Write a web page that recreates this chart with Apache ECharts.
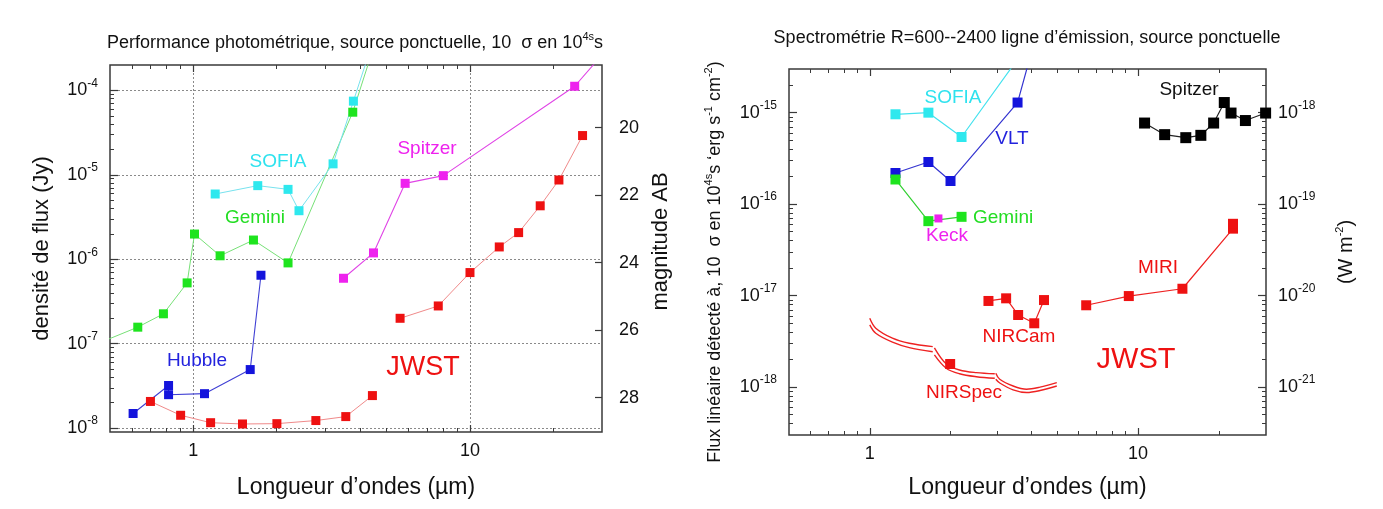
<!DOCTYPE html>
<html><head><meta charset="utf-8">
<script src="https://cdn.jsdelivr.net/npm/echarts@6/dist/echarts.min.js"></script>
<style>html,body{margin:0;padding:0;background:#fff}#c{width:1383px;height:509px}</style>
</head><body><div id="c"></div>
<script>
// ================= DATA =================
// Left panel: photometric performance, flux density (Jy) vs wavelength (µm)
const photGeminiWave = [0.45, 0.63, 0.78, 0.95, 1.01, 1.25, 1.65, 2.2, 3.77, 4.8];
const photGeminiFlux = [1.0e-7, 1.57e-7, 2.26e-7, 5.25e-7, 1.99e-6, 1.10e-6, 1.69e-6, 9.06e-7, 5.52e-5, 6.5e-4];
const photSofiaWave = [1.20, 1.71, 2.20, 2.41, 3.20, 3.79, 4.8];
const photSofiaFlux = [5.93e-6, 7.45e-6, 6.73e-6, 3.76e-6, 1.35e-5, 7.46e-5, 8.0e-4];
const photHubbleWave = [0.606, 0.814, 0.814, 1.098, 1.606, 1.756];
const photHubbleFlux = [1.49e-8, 3.2e-8, 2.49e-8, 2.56e-8, 4.94e-8, 6.47e-7];
const photSpitzerWave = [3.49, 4.48, 5.83, 8.01, 23.9, 35];
const photSpitzerFlux = [5.96e-7, 1.19e-6, 7.93e-6, 9.78e-6, 1.12e-4, 4.7e-4];
const photJwstNirWave = [0.70, 0.90, 1.155, 1.506, 2.005, 2.773, 3.557, 4.44];
const photJwstNirFlux = [2.07e-8, 1.42e-8, 1.16e-8, 1.12e-8, 1.13e-8, 1.23e-8, 1.37e-8, 2.43e-8];
const photJwstMiriWave = [5.59, 7.68, 10.0, 12.76, 14.99, 17.94, 20.96, 25.52];
const photJwstMiriFlux = [2.0e-7, 2.8e-7, 6.96e-7, 1.40e-6, 2.07e-6, 4.30e-6, 8.69e-6, 2.92e-5];

// Right panel: line spectroscopy, line flux (erg s-1 cm-2) vs wavelength (µm)
const specSofiaWave = [1.247, 1.654, 2.199, 4.0];
const specSofiaFlux = [9.6e-16, 1.0e-15, 5.42e-16, 6.2e-15];
const specVltWave = [1.247, 1.654, 2.0, 3.556, 4.0];
const specVltFlux = [2.19e-16, 2.89e-16, 1.79e-16, 1.29e-15, 4.5e-15];
const specGeminiWave = [1.247, 1.654, 2.199];
const specGeminiFlux = [1.86e-16, 6.52e-17, 7.27e-17];
const specKeckWave = [1.803];
const specKeckFlux = [6.98e-17];
const specNircamWave = [2.77, 3.224, 3.574, 4.104, 4.463];
const specNircamFlux = [8.75e-18, 9.35e-18, 6.15e-18, 4.99e-18, 8.95e-18];
const specMiriWave = [6.41, 9.24, 14.64, 22.6, 22.6];
const specMiriFlux = [7.85e-18, 9.9e-18, 1.19e-17, 5.4e-17, 6.1e-17];
const specSpitzerWave = [10.58, 12.57, 15.07, 17.15, 19.14, 20.97, 22.22, 25.14, 29.9];
const specSpitzerFlux = [7.7e-16, 5.75e-16, 5.33e-16, 5.65e-16, 7.7e-16, 1.29e-15, 9.9e-16, 8.2e-16, 9.9e-16];
const nirspecMarkWave = [1.994];
const nirspecMarkFlux = [1.79e-18];
const nirspecBandWave = [
  [1.0, 1.053, 1.215, 1.404, 1.717],
  [1.742, 1.927, 2.161, 2.496, 2.924],
  [2.95, 3.052, 3.423, 3.843, 4.311, 4.98]
];
const nirspecUpperFlux = [
  [5.66e-18, 4.41e-18, 3.43e-18, 3.02e-18, 2.77e-18],
  [2.69e-18, 1.80e-18, 1.54e-18, 1.44e-18, 1.40e-18],
  [1.42e-18, 1.22e-18, 1.03e-18, 9.5e-19, 1.0e-18, 1.12e-18]
];
const nirspecLowerFlux = [
  [4.79e-18, 3.88e-18, 3.10e-18, 2.70e-18, 2.44e-18],
  [2.25e-18, 1.61e-18, 1.40e-18, 1.30e-18, 1.25e-18],
  [1.22e-18, 1.11e-18, 9.35e-19, 8.74e-19, 9.18e-19, 1.03e-18]
];

// Axis ranges and tick labels
const waveMin = 0.5, waveMax = 30;
const waveMajor = [1, 10];
const photFluxMin = 9e-9, photFluxMax = 2e-4;
const photFluxMajor = [1e-8, 1e-7, 1e-6, 1e-5, 1e-4];
const magTicks = [20, 22, 24, 26, 28];
const specFluxMin = 3e-19, specFluxMax = 3e-15;
const specFluxMajor = [1e-18, 1e-17, 1e-16, 1e-15];
const wm2Major = [1e-21, 1e-20, 1e-19, 1e-18];

// ================= HELPERS =================
const FONT = '"Liberation Sans", Arial, Helvetica, sans-serif';
const TXT = '#111';
const FRAME = '#3a3a3a';
function minorLog(lo, hi) {
  const out = [];
  for (let e = Math.floor(Math.log10(lo)) - 1; e <= Math.ceil(Math.log10(hi)); e++) {
    for (let k = 2; k <= 9; k++) {
      const v = k * Math.pow(10, e);
      if (v > lo * 1.0001 && v < hi * 0.9999) out.push(v);
    }
  }
  return out;
}
function pts(xs, ys) { return xs.map((x, i) => [x, ys[i]]); }
const supRich = {
  b: { fontSize: 18, lineHeight: 26, fontFamily: FONT, color: TXT },
  s: { fontSize: 12, lineHeight: 14, verticalAlign: 'top', fontFamily: FONT, color: TXT }
};
function expLabel(v) {
  const e = Math.round(Math.log10(v));
  return '{b|10}{s|' + e + '}';
}
const ABzero = 3631;
const magTop = -2.5 * Math.log10(photFluxMax / ABzero);
const magBottom = -2.5 * Math.log10(photFluxMin / ABzero);

function xAxes(gridIndex) {
  const base = { gridIndex, type: 'log', logBase: 10, min: waveMin, max: waveMax, axisLine: { show: false } };
  const showGrid = gridIndex === 0;
  return [
    Object.assign({}, base, {
      position: 'bottom',
      axisTick: { show: true, inside: true, length: 7, customValues: waveMajor, lineStyle: { color: FRAME, width: 1.2 } },
      axisLabel: { show: true, customValues: waveMajor, formatter: v => String(Math.round(v)), fontSize: 18, fontFamily: FONT, color: TXT, margin: 10 },
      splitLine: { show: showGrid, lineStyle: { type: [2, 2], color: '#8a8a8a', width: 1 } },
      name: 'Longueur d’ondes (µm)', nameLocation: 'middle', nameGap: gridIndex === 0 ? 44 : 41,
      nameTextStyle: { fontSize: 23, fontFamily: FONT, color: TXT }
    }),
    Object.assign({}, base, {
      position: 'bottom',
      axisTick: { show: true, inside: true, length: 4, customValues: minorLog(waveMin, waveMax), lineStyle: { color: FRAME } },
      axisLabel: { show: false }, splitLine: { show: false }
    }),
    Object.assign({}, base, {
      position: 'top',
      axisTick: { show: true, inside: true, length: 7, customValues: waveMajor, lineStyle: { color: FRAME, width: 1.2 } },
      axisLabel: { show: false }, splitLine: { show: false }
    }),
    Object.assign({}, base, {
      position: 'top',
      axisTick: { show: true, inside: true, length: 4, customValues: minorLog(waveMin, waveMax), lineStyle: { color: FRAME } },
      axisLabel: { show: false }, splitLine: { show: false }
    })
  ];
}

function logY(gridIndex, position, min, max, major, withLabels, extra) {
  const base = { gridIndex, type: 'log', logBase: 10, min, max, position, axisLine: { show: false } };
  return [
    Object.assign({}, base, {
      axisTick: { show: true, inside: true, length: 8, customValues: major, lineStyle: { color: FRAME, width: 1.2 } },
      axisLabel: { show: withLabels, customValues: major, formatter: expLabel, rich: supRich, margin: 12 },
      splitLine: { show: gridIndex === 0 && position === 'left', lineStyle: { type: [2, 2], color: '#8a8a8a', width: 1 } }
    }, extra || {}),
    Object.assign({}, base, {
      axisTick: { show: true, inside: true, length: 4, customValues: minorLog(min, max), lineStyle: { color: FRAME } },
      axisLabel: { show: false }, splitLine: { show: false }
    })
  ];
}

const nameRich = {
  b: { fontSize: 18, lineHeight: 24, fontFamily: FONT, color: TXT },
  s: { fontSize: 11, lineHeight: 12, verticalAlign: 'top', fontFamily: FONT, color: TXT }
};

const xAxis = [].concat(xAxes(0), xAxes(1)); // 0-3 grid0, 4-7 grid1
const yAxis = [].concat(
  logY(0, 'left', photFluxMin, photFluxMax, photFluxMajor, true, {
    name: 'densité de flux (Jy)', nameLocation: 'middle', nameGap: 57, nameRotate: 90,
    nameTextStyle: { fontSize: 22, fontFamily: FONT, color: TXT }
  }), // 0,1
  [{
    gridIndex: 0, type: 'value', position: 'right', inverse: true, min: magTop, max: magBottom,
    axisLine: { show: false },
    axisTick: { show: true, inside: true, length: 7, customValues: magTicks, lineStyle: { color: FRAME, width: 1.2 } },
    axisLabel: { show: true, customValues: magTicks, fontSize: 18, fontFamily: FONT, color: TXT, margin: 17 },
    splitLine: { show: false },
    name: 'magnitude AB', nameLocation: 'middle', nameGap: 48, nameRotate: 90,
    nameTextStyle: { fontSize: 22, fontFamily: FONT, color: TXT, padding: [0, 0, 0, 14] }
  }], // 2
  logY(1, 'left', specFluxMin, specFluxMax, specFluxMajor, true, {
    name: '{b|Flux linéaire détecté à, 10  σ en 10}{s|4s}{b|s ‘erg s}{s|-1}{b| cm}{s|-2}{b|)}',
    nameLocation: 'middle', nameGap: 62, nameRotate: 90,
    nameTextStyle: { rich: nameRich, fontSize: 18, fontFamily: FONT, color: TXT, padding: [0, 20, 0, 0] }
  }), // 3,4
  logY(1, 'right', specFluxMin * 1e-3, specFluxMax * 1e-3, wm2Major, true, {
    name: '{b|(W m}{s|-2}{b|)}', nameLocation: 'middle', nameGap: 68, nameRotate: 90,
    nameTextStyle: { rich: { b: Object.assign({}, nameRich.b, { fontSize: 20 }), s: nameRich.s } }
  }) // 5,6
);

function markLine(name, xs, ys, xi, yi, color, lineColor, size, lw) {
  return {
    name, type: 'line', xAxisIndex: xi, yAxisIndex: yi, data: pts(xs, ys),
    symbol: 'rect', symbolSize: size, showSymbol: true, clip: true,
    itemStyle: { color: color }, lineStyle: { color: lineColor, width: lw },
    emphasis: { disabled: true }, animation: false, z: 3
  };
}
function curve(name, xs, ys) {
  return {
    name, type: 'line', xAxisIndex: 4, yAxisIndex: 3, data: pts(xs, ys),
    symbol: 'none', smooth: 0.35, clip: true,
    lineStyle: { color: '#ee2222', width: 1.4 }, emphasis: { disabled: true }, animation: false, z: 2
  };
}

const RED = '#ee1111';
const series = [
  markLine('Gemini', photGeminiWave, photGeminiFlux, 0, 0, '#1ee41e', '#77e077', 9, 1),
  markLine('SOFIA', photSofiaWave, photSofiaFlux, 0, 0, '#2ee8ee', '#77e2ee', 9, 1),
  markLine('Hubble', photHubbleWave, photHubbleFlux, 0, 0, '#1414dc', '#4040d4', 9, 1.1),
  markLine('Spitzer', photSpitzerWave, photSpitzerFlux, 0, 0, '#ee22ee', '#e044e6', 9, 1.1),
  markLine('JWST NIR', photJwstNirWave, photJwstNirFlux, 0, 0, RED, '#f08a8a', 9, 1),
  markLine('JWST MIRI', photJwstMiriWave, photJwstMiriFlux, 0, 0, RED, '#f08a8a', 9, 1),

  markLine('SOFIA spec', specSofiaWave, specSofiaFlux, 4, 3, '#2ee8ee', '#44e2ee', 10, 1.2),
  markLine('VLT', specVltWave, specVltFlux, 4, 3, '#1414dc', '#3434d0', 10, 1.2),
  markLine('Gemini spec', specGeminiWave, specGeminiFlux, 4, 3, '#1ee41e', '#33d033', 10, 1.2),
  markLine('Keck', specKeckWave, specKeckFlux, 4, 3, '#ee22ee', '#ee22ee', 8, 1.2),
  markLine('NIRCam', specNircamWave, specNircamFlux, 4, 3, RED, '#ee2222', 10, 1.2),
  markLine('MIRI', specMiriWave, specMiriFlux, 4, 3, RED, '#ee2222', 10, 1.2),
  markLine('Spitzer spec', specSpitzerWave, specSpitzerFlux, 4, 3, '#000', '#222', 11, 1.2),
  markLine('NIRSpec', nirspecMarkWave, nirspecMarkFlux, 4, 3, RED, RED, 10, 1.2)
];
nirspecBandWave.forEach((w, i) => {
  series.push(curve('NIRSpec up ' + i, w, nirspecUpperFlux[i]));
  series.push(curve('NIRSpec lo ' + i, w, nirspecLowerFlux[i]));
});

function label(text, x, y, color, size, align) {
  return {
    type: 'text', x, y, z: 10, silent: true,
    style: { text, fill: color, fontSize: size, fontFamily: FONT,
      textAlign: align || 'center', align: align || 'center',
      textVerticalAlign: 'middle', verticalAlign: 'middle' }
  };
}
function richTitle(text, x, y) {
  return {
    type: 'text', x, y, z: 10, silent: true,
    style: { text, rich: nameRich, fill: TXT, fontSize: 18, fontFamily: FONT,
      textAlign: 'center', align: 'center', textVerticalAlign: 'middle', verticalAlign: 'middle' }
  };
}

const option = {
  backgroundColor: '#ffffff',
  animation: false,
  grid: [
    { left: 110, top: 65, width: 492, height: 367, show: true, borderColor: FRAME, borderWidth: 1.5, backgroundColor: 'transparent', outerBoundsMode: 'none', containLabel: false },
    { left: 789, top: 69, width: 477, height: 366, show: true, borderColor: FRAME, borderWidth: 1.5, backgroundColor: 'transparent', outerBoundsMode: 'none', containLabel: false }
  ],
  xAxis, yAxis, series,
  graphic: [
    richTitle('{b|Performance photométrique, source ponctuelle, 10  σ en 10}{s|4s}{b|s}', 355, 43),
    richTitle('{b|Spectrométrie R=600--2400 ligne d’émission, source ponctuelle}', 1027, 38),
    label('SOFIA', 278, 162, '#2ee2ee', 19),
    label('Gemini', 255, 218, '#22dd22', 19),
    label('Spitzer', 427, 149, '#ee22ee', 19),
    label('Hubble', 197, 361, '#2222dd', 19),
    label('JWST', 423, 368, RED, 27),
    label('SOFIA', 953, 98, '#2ee2ee', 19),
    label('VLT', 1012, 139, '#2222dd', 19),
    label('Gemini', 973, 218, '#22dd22', 19, 'left'),
    label('Keck', 947, 236, '#ee22ee', 19),
    label('NIRCam', 1019, 337, RED, 19),
    label('NIRSpec', 964, 393, RED, 19),
    label('MIRI', 1158, 268, RED, 19),
    label('JWST', 1136, 360, RED, 29),
    label('Spitzer', 1189, 90, '#111', 19)
  ]
};
const chart = echarts.init(document.getElementById('c'), null, { renderer: 'canvas' });
chart.setOption(option);
</script>
</body></html>
